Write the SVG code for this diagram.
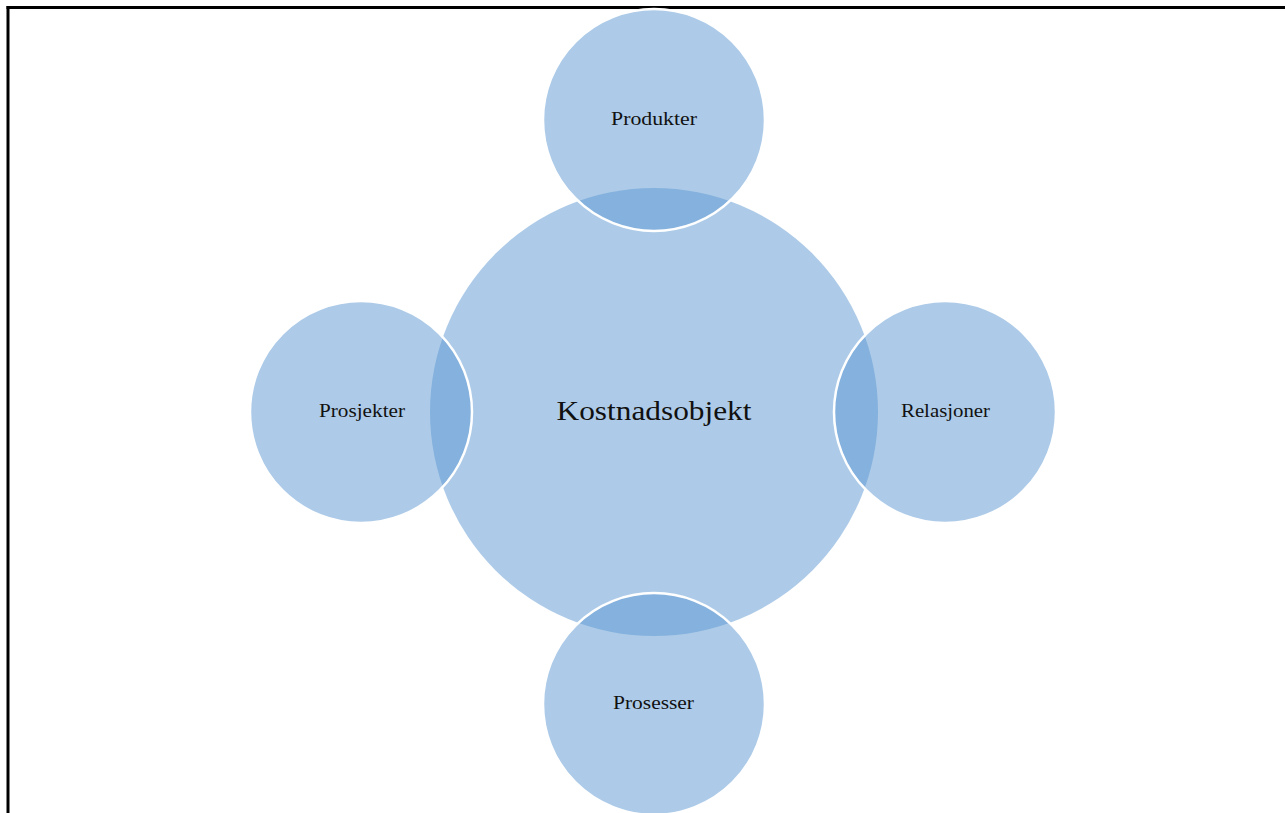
<svg xmlns="http://www.w3.org/2000/svg" width="1285" height="813" viewBox="0 0 1285 813">
<style>
.c{fill:#5B97D1;fill-opacity:0.5}
.s{stroke:#ffffff;stroke-width:2.5}
.t{font-family:"Liberation Serif","Times New Roman",serif;fill:#111111;text-anchor:middle}
.l{font-size:18px}
.m{font-size:28px}
</style>
<rect width="1285" height="813" fill="#ffffff"/>
<g id="frame">
<line x1="6.5" y1="7.5" x2="1285" y2="7.5" stroke="#000" stroke-width="3"/>
<line x1="8" y1="6" x2="8" y2="813" stroke="#000" stroke-width="3"/>
</g>
<g id="connectors"></g>
<g id="center">
<circle class="c" cx="654" cy="412" r="224"/>
<text class="t m" x="654" y="420" textLength="195" lengthAdjust="spacingAndGlyphs">Kostnadsobjekt</text>
</g>
<g id="produkter">
<circle class="c s" cx="654" cy="120" r="111"/>
<text class="t l" x="654" y="125" textLength="86" lengthAdjust="spacingAndGlyphs">Produkter</text>
</g>
<g id="prosjekter">
<circle class="c s" cx="361" cy="412" r="111"/>
<text class="t l" x="362" y="417" textLength="86" lengthAdjust="spacingAndGlyphs">Prosjekter</text>
</g>
<g id="relasjoner">
<circle class="c s" cx="945" cy="412" r="111"/>
<text class="t l" x="945.5" y="417" textLength="89" lengthAdjust="spacingAndGlyphs">Relasjoner</text>
</g>
<g id="prosesser">
<circle class="c s" cx="654" cy="704" r="111"/>
<text class="t l" x="653.5" y="709" textLength="81" lengthAdjust="spacingAndGlyphs">Prosesser</text>
</g>
</svg>
